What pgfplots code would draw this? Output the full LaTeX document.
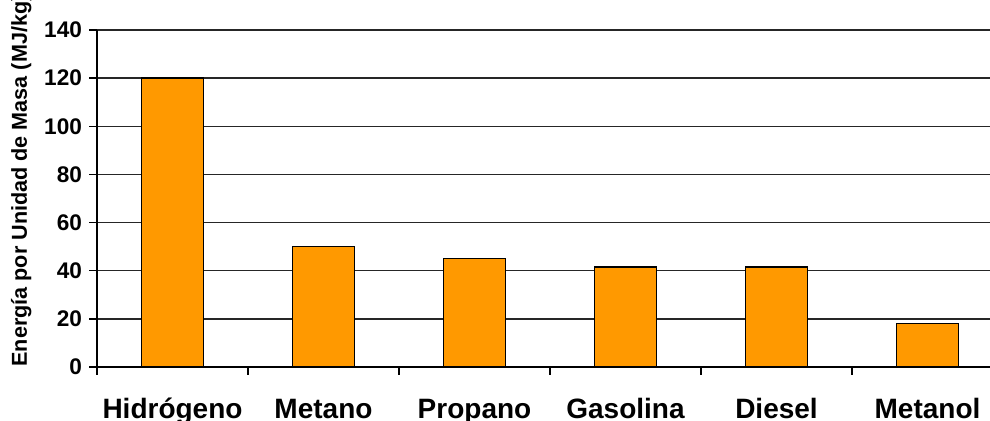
\documentclass[border=0pt]{standalone}
\usepackage{pgfplots}
\pgfplotsset{compat=1.18}
\usepackage{fontspec}
\setmainfont{Liberation Sans}
\definecolor{barorange}{HTML}{FF9900}
\begin{document}
\begin{tikzpicture}
\begin{axis}[name=ax, scale only axis, width=446.5pt, height=168.5pt,
  xmin=-0.5, xmax=5.414, ymin=0, ymax=140,
  ytick={0,20,...,140}, ymajorgrids, grid style={black!85, line width=0.7pt},
  xtick={0,...,5}, xticklabels={Hidrógeno,Metano,Propano,Gasolina,Diesel,Metanol},
  minor xtick={-0.5,0.5,1.5,2.5,3.5,4.5},
  axis x line*=bottom, axis y line*=left,
  axis line style={black, line width=0.7pt},
  tick align=outside, major tick length=4pt, minor tick length=4pt,
  major x tick style={draw=none},
  tick style={black, line width=0.7pt},
  /pgf/number format/assume math mode=true,
  yticklabel style={font=\bfseries\fontsize{11.3}{12}\selectfont, anchor=east},
  xticklabel style={font=\bfseries\fontsize{14}{15}\selectfont, anchor=base, yshift=-22pt},
  ylabel={Energía por Unidad de Masa (MJ/kg)},
  ylabel style={at={(axis description cs:-0.0784,0)}, anchor=base west, inner sep=0pt, font=\bfseries\fontsize{10.8}{12}\selectfont},
]
\addplot[ybar, bar width=31pt, fill=barorange, draw=black, line width=0.7pt]
  coordinates {(0,120) (1,50) (2,45) (3,41.5) (4,41.5) (5,18)};
\end{axis}
\pgfresetboundingbox
\path ([xshift=-48.5pt,yshift=-27pt]ax.south west) rectangle ([yshift=15pt]ax.north east);
\end{tikzpicture}
\end{document}
